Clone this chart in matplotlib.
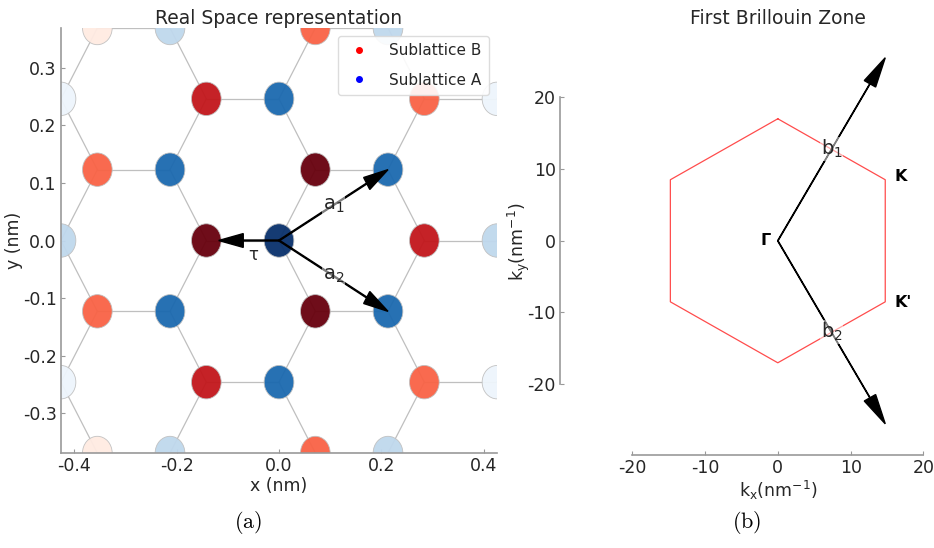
import numpy as np
import matplotlib
matplotlib.use("Agg")
import matplotlib.pyplot as plt
from matplotlib.patches import Circle
from matplotlib.lines import Line2D

plt.rcParams["font.family"] = ["DejaVu Sans"]
plt.rcParams["axes.unicode_minus"] = False
plt.rcParams["text.color"] = "0.15"
plt.rcParams["axes.labelcolor"] = "0.15"
plt.rcParams["xtick.color"] = "0.15"
plt.rcParams["ytick.color"] = "0.15"

# ------------------------------------------------------------
# real-space lattice (nm)
# ------------------------------------------------------------
a1 = np.array([0.213, 0.123])
a2 = np.array([0.213, -0.123])
tau = np.array([-0.142, 0.0])
tau_arrow_frac = 0.83      # tau arrow stops at the edge of the B atom
atom_radius = 0.029

# colour intensity per neighbour shell (distance from A at the origin)
blue_shell_r = [0.0, 0.246, 0.426, 0.492]
blue_shell_val = [1.0, 0.78, 0.27, 0.05]
red_shell_r = [0.142, 0.284, 0.376, 0.512]
red_shell_val = [1.0, 0.78, 0.52, 0.06]

real_xticks = [-0.4, -0.2, 0.0, 0.2, 0.4]
real_yticks = [-0.3, -0.2, -0.1, 0.0, 0.1, 0.2, 0.3]

# ------------------------------------------------------------
# reciprocal space (nm^-1)
# ------------------------------------------------------------
hex_kx = [0.0, 14.75, 14.75, 0.0, -14.75, -14.75, 0.0]
hex_ky = [17.03, 8.52, -8.52, -17.03, -8.52, 8.52, 17.03]
b1 = (14.75, 25.55)
b2 = (14.75, -25.55)
k_ticks = [-20, -10, 0, 10, 20]


def shell_value(r, shells_r, shells_v):
    i = int(np.argmin(np.abs(np.array(shells_r) - r)))
    if abs(shells_r[i] - r) > 0.03:
        return None
    return shells_v[i]


fig = plt.figure(figsize=(9.34, 5.48), dpi=100)
W, H = 934, 548

# ---------------- (a) real space ----------------
ax = fig.add_axes([61 / W, (H - 453) / H, 436 / W, 425 / H])
ax.set_xlim(-0.426, 0.426)
ax.set_ylim(-0.369, 0.369)

blues = plt.get_cmap("Blues")
reds = plt.get_cmap("Reds")
for n in range(-4, 5):
    for m in range(-4, 5):
        A = n * a1 + m * a2
        B = A + tau
        # bonds A -> its three B neighbours
        for nb in (B, B + a1, B + a2):
            ax.plot([A[0], nb[0]], [A[1], nb[1]], color="0.75", lw=0.9, zorder=1)
        va = shell_value(np.hypot(*A), blue_shell_r, blue_shell_val)
        if va is not None:
            ax.add_patch(Circle(A, atom_radius, facecolor=blues(va), edgecolor="0.75",
                                lw=0.6, alpha=0.95, zorder=2))
        vb = shell_value(np.hypot(*B), red_shell_r, red_shell_val)
        if vb is not None:
            ax.add_patch(Circle(B, atom_radius, facecolor=reds(vb), edgecolor="0.75",
                                lw=0.6, alpha=0.95, zorder=2))

for vec in (a1, a2, tau * tau_arrow_frac):
    ax.arrow(0, 0, vec[0], vec[1], width=0.0017, head_width=0.024, head_length=0.048,
             length_includes_head=True, color="black", zorder=3)

lab_bbox = dict(facecolor="white", alpha=0.5, edgecolor="none", pad=0.5)
ax.text(a1[0] / 2, a1[1] / 2, r"a$_1$", fontsize=14, ha="center", va="center",
        bbox=lab_bbox, zorder=4)
ax.text(a2[0] / 2, a2[1] / 2, r"a$_2$", fontsize=14, ha="center", va="center",
        bbox=lab_bbox, zorder=4)
ax.text(-0.05, -0.025, "τ", fontsize=12, ha="center", va="center", zorder=4)

handles = [Line2D([], [], marker="o", ls="none", color="red", markersize=4),
           Line2D([], [], marker="o", ls="none", color="blue", markersize=4)]
leg = ax.legend(handles, ["Sublattice B", "Sublattice A"], loc="upper right",
                fontsize=11, handlelength=1.7, handletextpad=1.15, borderpad=0.5,
                labelspacing=0.95, framealpha=0.9, bbox_to_anchor=(1.0, 1.0))
leg.get_frame().set_edgecolor("0.85")

ax.set_xticks(real_xticks)
ax.set_yticks(real_yticks)
ax.set_xticklabels([f"{v:.1f}" for v in real_xticks])
ax.set_yticklabels([f"{v:.1f}" for v in real_yticks])
ax.tick_params(direction="in", length=3, width=0.8, color="0.6", labelsize=12.5, pad=3)
for s in ("top", "right"):
    ax.spines[s].set_visible(False)
for s in ("left", "bottom"):
    ax.spines[s].set_color("0.6")
    ax.spines[s].set_linewidth(1.2)
ax.set_xlabel("x (nm)", fontsize=12.5, labelpad=1)
ax.set_ylabel("y (nm)", fontsize=12.5, labelpad=0)
ax.set_title("Real Space representation", fontsize=13.5, pad=3)

fig.text(248 / W, 1 - 522 / H, r"$\mathrm{(a)}$", math_fontfamily="cm", fontsize=16,
         ha="center", va="center", color="black")

# ---------------- (b) Brillouin zone ----------------
bx = fig.add_axes([560 / W, (H - 455) / H, 435.6 / W, 427 / H])
bx.set_xlim(-29.9, 29.9)
bx.set_ylim(-29.9, 29.7)

bx.plot(hex_kx, hex_ky, color="red", lw=0.9, alpha=0.7, zorder=1)
for vec in (b1, b2):
    bx.arrow(0, 0, vec[0], vec[1], width=0.06, head_width=1.8, head_length=4.2,
             length_includes_head=True, color="black", zorder=2)

bx.text(b1[0] / 2, b1[1] / 2, r"b$_1$", fontsize=14, ha="center", va="center",
        bbox=lab_bbox, zorder=3)
bx.text(b2[0] / 2, b2[1] / 2, r"b$_2$", fontsize=14, ha="center", va="center",
        bbox=lab_bbox, zorder=3)
bx.text(-1.0, 0.0, "Γ", fontsize=11.5, fontweight="bold", ha="right", va="center",
        color="black")
bx.text(16.0, 9.0, "K", fontsize=11.5, fontweight="bold", ha="left", va="center",
        color="black")
bx.text(16.0, -8.6, "K'", fontsize=11.5, fontweight="bold", ha="left", va="center",
        color="black")

bx.set_xticks(k_ticks)
bx.set_yticks(k_ticks)
bx.tick_params(direction="in", length=3, width=0.8, color="0.6", labelsize=12.5, pad=3)
for s in ("top", "right"):
    bx.spines[s].set_visible(False)
for s in ("left", "bottom"):
    bx.spines[s].set_color("0.6")
    bx.spines[s].set_linewidth(1.2)
    bx.spines[s].set_bounds(-20, 20)
bx.set_xlabel(r"k$_\mathrm{x}$(nm$^{-1}$)", fontsize=12.5, labelpad=1)
bx.set_ylabel(r"k$_\mathrm{y}$(nm$^{-1}$)", fontsize=12.5, labelpad=-3)
bx.set_title("First Brillouin Zone", fontsize=13.5, pad=3)

fig.text(747 / W, 1 - 522 / H, r"$\mathrm{(b)}$", math_fontfamily="cm", fontsize=16,
         ha="center", va="center", color="black")

fig.savefig("out.png", dpi=100, facecolor="white")
